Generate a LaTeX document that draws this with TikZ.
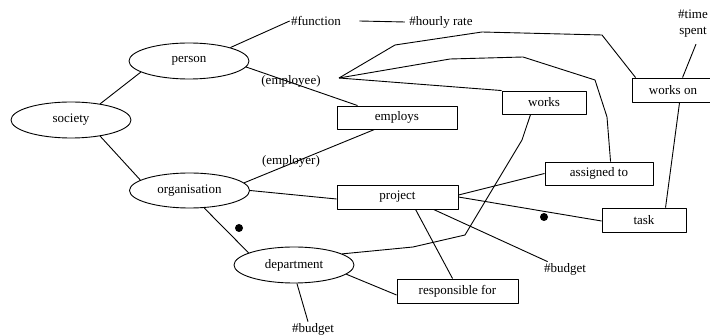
\documentclass[tikz,border=0pt]{standalone}
\usepackage{fontspec}
\setmainfont{Liberation Serif}
\usetikzlibrary{shapes.geometric}
\begin{document}
\begin{tikzpicture}[x=1pt,y=-1pt, line width=0.9pt, line join=round,
 every node/.style={font=\fontsize{13}{16}\selectfont},
 ent/.style={draw, ellipse, minimum width=120pt, minimum height=36pt, inner sep=0pt},
 rel/.style={draw, rectangle, minimum height=23pt, inner sep=0pt},
 lbl/.style={inner sep=1pt},
 dot/.style={circle, fill, minimum size=8pt, inner sep=0pt}]
\useasboundingbox (0,0) rectangle (710,336);
% entities
\node[ent] (person) at (189,61) {person};
\node[ent] (society) at (71,120) {society};
\node[ent, minimum height=35pt] (org) at (189.5,190.5) {organisation};
\node[ent] (dept) at (294,265) {department};
% relationships
\node[rel, minimum width=120pt] (employs) at (397,117.5) {employs};
\node[rel, minimum width=84pt] (works) at (544,102.5) {works};
\node[rel, minimum width=82pt, minimum height=24pt] (workson) at (673,90) {works on};
\node[rel, minimum width=108pt] (assigned) at (599,173.5) {assigned to};
\node[rel, minimum width=121pt, minimum height=24pt] (project) at (397.5,197) {project};
\node[rel, minimum width=84pt, minimum height=24pt] (task) at (644,220) {task};
\node[rel, minimum width=121pt, minimum height=24pt] (resp) at (457.5,291) {responsible for};
% labels
\node[lbl] (function) at (316,21) {\#function};
\node[lbl] (hourly) at (441,22) {\#hourly rate};
\node[lbl, align=center] (time) at (693,24) {\#time\\spent};
\node[lbl] (employee) at (291,81) {(employee)};
\node[lbl] (employer) at (291,161) {(employer)};
\node[lbl] (budgetp) at (565,269) {\#budget};
\node[lbl] (budgetd) at (313,329) {\#budget};
\node[dot] (dot1) at (239,228) {};
\node[dot] (dot2) at (544,217) {};
\coordinate (hub) at (339,78);
% connectors
\draw (society.29) -- (person.-167.6);
\draw (society.-29) -- (org.168.7);
\draw (person.18) -- (function.west);
\draw (person.-6) -- ([xshift=21pt]employs.north west);
\draw (org.8) -- ([xshift=38pt]employs.south west);
\draw (org.east) -- ([yshift=-2pt]project.west);
\draw (org.-50) -- (dept.165.4);
\draw (dept.-81) -- ([xshift=-5pt]budgetd.north);
\draw (dept.-10) -- ([yshift=-4pt]resp.west);
\draw (dept.13) -- (413,247) -- (465,235) -- (522,140) -- ([xshift=29pt]works.south west);
\draw ([xshift=79pt]project.south west) -- ([xshift=56pt]resp.north west);
\draw ([xshift=97pt]project.south west) -- ([xshift=5pt]budgetp.north west);
\draw ([yshift=2pt]project.east) -- (assigned.west);
\draw (project.east) -- ([yshift=-1pt]task.west);
\draw ([xshift=64pt]task.north west) -- ([xshift=48pt]workson.south west);
\draw ([xshift=51pt]workson.north west) -- ([xshift=3pt,yshift=-5pt]time.south);
\draw ([xshift=17pt]function.east) -- ([xshift=-3pt]hourly.west);
\draw (hub) -- (works.north west);
\draw (hub) -- (450,59) -- (523,57) -- (595,80) -- (607,117) -- ([xshift=66pt]assigned.north west);
\draw (hub) -- (395,45) -- (482,32) -- (602,35) -- ([xshift=4pt]workson.north west);
\end{tikzpicture}
\end{document}
